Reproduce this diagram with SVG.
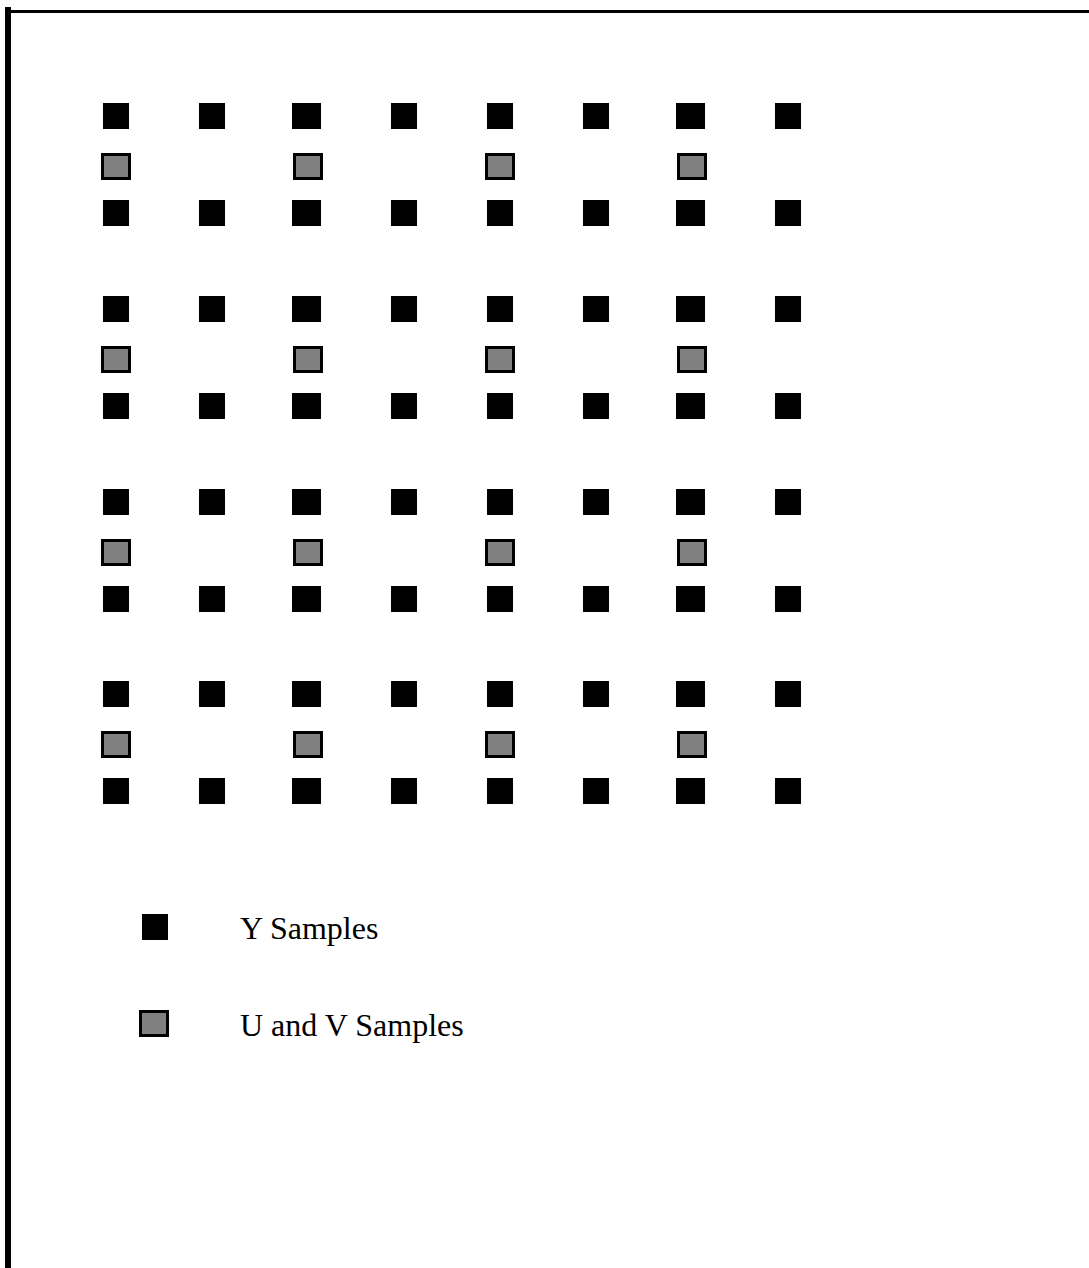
<svg xmlns="http://www.w3.org/2000/svg" width="1089" height="1268" viewBox="0 0 1089 1268">
<style>
.y{fill:#000}
.uv{fill:#808080;stroke:#000;stroke-width:3}
.t{font-family:"Liberation Serif","Times New Roman",serif;font-size:32px;fill:#000}
</style>
<rect x="0" y="0" width="1089" height="1268" fill="#fff"/>
<g id="frame">
<rect x="5" y="7" width="6" height="1261" fill="#000"/>
<rect x="11" y="10" width="1078" height="3" fill="#000"/>
</g>
<defs>
<g id="grp">
<rect class="y" x="103" y="0" width="26" height="26"/>
<rect class="y" x="199" y="0" width="26" height="26"/>
<rect class="y" x="292" y="0" width="29" height="26"/>
<rect class="y" x="391" y="0" width="26" height="26"/>
<rect class="y" x="487" y="0" width="26" height="26"/>
<rect class="y" x="583" y="0" width="26" height="26"/>
<rect class="y" x="676" y="0" width="29" height="26"/>
<rect class="y" x="775" y="0" width="26" height="26"/>
<rect class="uv" x="102.5" y="51.5" width="27" height="24"/>
<rect class="uv" x="294.5" y="51.5" width="27" height="24"/>
<rect class="uv" x="486.5" y="51.5" width="27" height="24"/>
<rect class="uv" x="678.5" y="51.5" width="27" height="24"/>
<rect class="y" x="103" y="97" width="26" height="26"/>
<rect class="y" x="199" y="97" width="26" height="26"/>
<rect class="y" x="292" y="97" width="29" height="26"/>
<rect class="y" x="391" y="97" width="26" height="26"/>
<rect class="y" x="487" y="97" width="26" height="26"/>
<rect class="y" x="583" y="97" width="26" height="26"/>
<rect class="y" x="676" y="97" width="29" height="26"/>
<rect class="y" x="775" y="97" width="26" height="26"/>
</g>
</defs>
<g id="block1"><use href="#grp" y="103"/></g>
<g id="block2"><use href="#grp" y="296"/></g>
<g id="block3"><use href="#grp" y="489"/></g>
<g id="block4"><use href="#grp" y="681"/></g>
<g id="legend-y">
<rect class="y" x="142" y="914" width="26" height="26"/>
<text class="t" x="240" y="939">Y Samples</text>
</g>
<g id="legend-uv">
<rect class="uv" x="140.5" y="1011.5" width="27" height="24"/>
<text class="t" x="240" y="1036">U and V Samples</text>
</g>
<g id="connectors"></g>
</svg>
